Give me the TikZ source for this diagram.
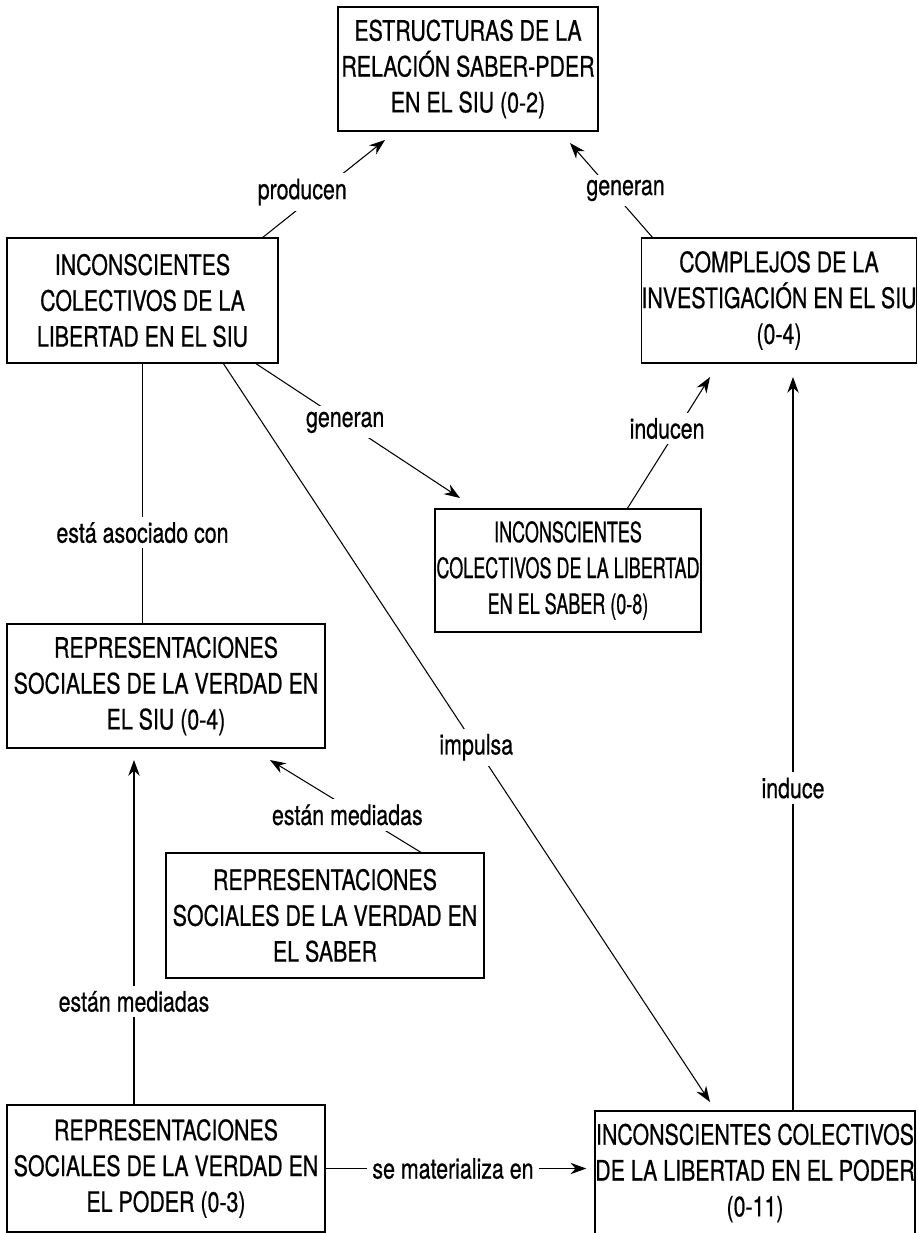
\documentclass[tikz,border=0pt]{standalone}
\usepackage{fontspec}
\setmainfont{TeX Gyre Heros}[FakeStretch=0.76, FakeBold=0.6]
\newfontfamily\estrecha{TeX Gyre Heros}[FakeStretch=0.64, FakeBold=0.6]
\usetikzlibrary{calc}
\usetikzlibrary{arrows.meta}
\tikzset{>={Stealth[length=9pt,width=6.5pt]}}
\tikzset{
  concepto/.style={draw, line width=0.9pt, align=center, inner sep=0pt, outer sep=0pt,
    font=\fontsize{16}{20.4}\selectfont},
  enlace/.style={line width=0.6pt, ->},
  etiqueta/.style={fill=white, inner sep=3pt, font=\fontsize{16}{18}\selectfont}
}

\begin{document}
\begin{tikzpicture}[x=0.02cm, y=-0.02cm]
            \useasboundingbox (0,0) rectangle (918,1233);
            \clip (0,0) rectangle (918,1233);
            \node[concepto, minimum width=5.2cm, minimum height=2.48cm] (estr) at (468,69)
                {ESTRUCTURAS DE LA\\ RELACIÓN SABER-PDER\\ EN EL SIU (0-2)};
            \node[concepto, minimum width=5.42cm, minimum height=2.5cm] (siu) at (142.5,300.5)
                {INCONSCIENTES\\ COLECTIVOS DE LA\\ LIBERTAD EN EL SIU};
            \node[concepto, minimum width=5.44cm, minimum height=2.5cm] (compl) at (779,300.5)
                {COMPLEJOS DE LA\\ INVESTIGACIÓN EN EL SIU\\ (0-4)};
            \node[concepto, font=\estrecha\fontsize{16}{20.4}\selectfont, minimum width=5.32cm, minimum height=2.46cm] (saber8) at (568,570.5)
                {INCONSCIENTES\\ COLECTIVOS DE LA LIBERTAD\\ EN EL SABER (0-8)};
            \node[concepto, minimum width=6.36cm, minimum height=2.48cm] (verdsiu) at (166,686)
                {REPRESENTACIONES\\ SOCIALES DE LA VERDAD EN\\ EL SIU (0-4)};
            \node[concepto, minimum width=6.36cm, minimum height=2.5cm] (verdsaber) at (325,915.5)
                {REPRESENTACIONES\\ SOCIALES DE LA VERDAD EN\\ EL SABER};
            \node[concepto, minimum width=6.36cm, minimum height=2.54cm] (poder3) at (166,1168.5)
                {REPRESENTACIONES\\ SOCIALES DE LA VERDAD EN\\ EL PODER (0-3)};
            \node[concepto, minimum width=6.32cm, minimum height=2.48cm] (poder11) at (755,1173)
                {INCONSCIENTES COLECTIVOS\\ DE LA LIBERTAD EN EL PODER\\ (0-11)};
            % enlaces
            \draw[enlace] ($(siu.north)+(119.5,0)$) -- node[etiqueta, pos=.47, xshift=-10pt] {producen} ($(estr.south)+(-83,9)$);
            \draw[enlace] ($(compl.north)+(-126,0)$) -- node[etiqueta, pos=.5, xshift=8pt] {generan} ($(estr.south)+(102,12)$);
            \draw[enlace] ($(siu.south)+(112.5,0)$) -- node[etiqueta, pos=.44] {generan} ($(saber8.north west)+(25,-11)$);
            \draw[enlace] ($(siu.south)+(80.5,0)$) -- node[etiqueta, pos=.52] {impulsa} ($(poder11.north)+(-45,-9)$);
            \draw[enlace] ($(saber8.north)+(59,0)$) -- node[etiqueta, pos=.61, xshift=-6pt] {inducen} ($(compl.south)+(-69,14)$);
            \draw[line width=0.6pt] (siu.south) -- node[etiqueta, pos=.65] {está asociado con} (siu.south |- verdsiu.north);
            \draw[enlace] ($(verdsaber.north)+(97,0)$) -- node[etiqueta, pos=.41, xshift=-7pt] {están mediadas} ($(verdsiu.south east)+(-55,12)$);
            \draw[enlace] ($(poder3.north)+(-32,0)$) -- node[etiqueta, pos=.3] {están mediadas} ($(verdsiu.south)+(-32,12)$);
            \draw[enlace] ($(poder11.north)+(38,0)$) -- node[etiqueta, pos=.44] {induce} ($(compl.south)+(14,14)$);
            \draw[enlace] (poder3.east) -- node[etiqueta, pos=.49] {se materializa en} ($(poder3.east -| poder11.west)+(-9,0)$);
        \end{tikzpicture}
\end{document}
